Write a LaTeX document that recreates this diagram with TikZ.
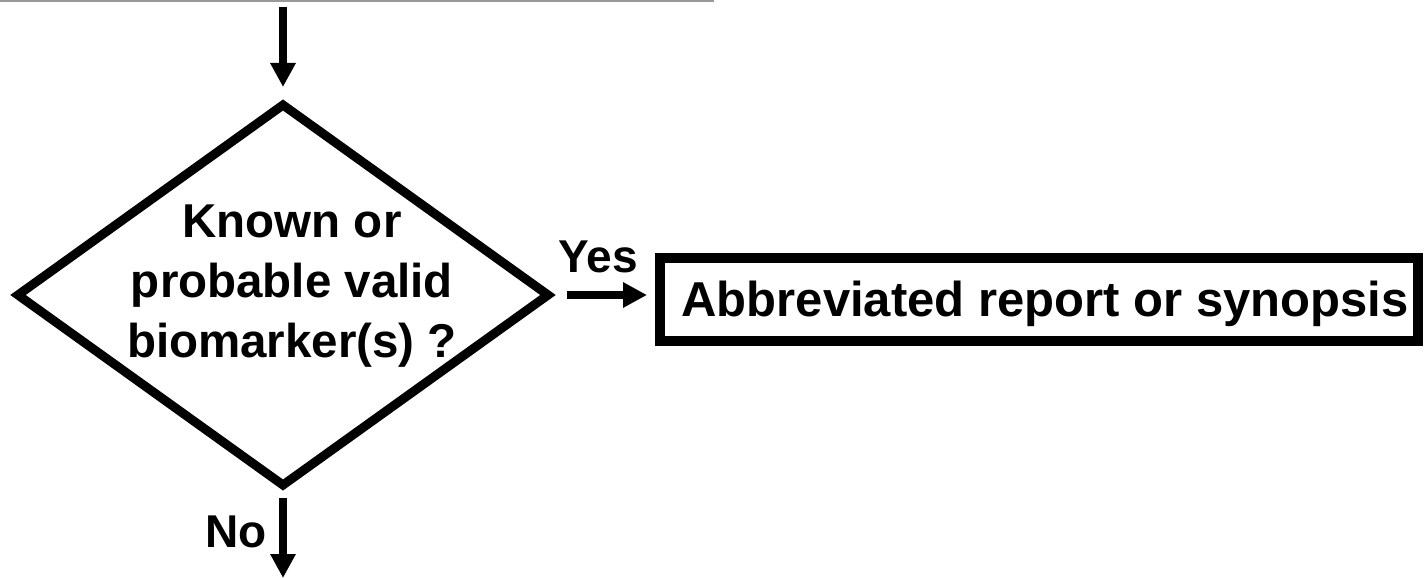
\documentclass[tikz,border=0pt]{standalone}
\usepackage{fontspec}
\setmainfont{Liberation Sans}
\usetikzlibrary{shapes.geometric,arrows.meta}
\definecolor{rulegray}{HTML}{999999}
\begin{document}
\begin{tikzpicture}[x=1pt,y=-1pt,
  lbl/.style={font=\bfseries\fontsize{46}{60}\selectfont, inner sep=0pt},
  qlbl/.style={font=\bfseries\fontsize{47.5}{60}\selectfont, inner sep=0pt},
  arr/.style={line width=8pt, -{Triangle[length=24pt,width=24pt]}},
  decision/.style={draw, diamond, line width=9pt, minimum width=530pt, minimum height=380pt, inner sep=0pt, outer sep=0pt},
  boxst/.style={draw, rectangle, line width=10pt, minimum width=758pt, minimum height=83pt, inner sep=0pt, outer sep=0pt, text height=34pt, text depth=0pt, font=\bfseries\fontsize{49}{60}\selectfont}
]
\useasboundingbox (0,0) rectangle (1425,578);
\draw[rulegray, line width=2pt] (0,1) -- (714,1);
\node[decision] (dia) at (283,295) {};
\node[qlbl, align=center] (q) at (292,286) {Known or\\probable valid\\biomarker(s) ?};
\node[boxst] (box) at (1039,299) {\hspace*{12pt}Abbreviated report or synopsis};
\coordinate (in) at (283,7);
\coordinate (out) at (283,578);
\draw[arr, shorten >=18pt] (in) -- (dia.north);
\draw[arr, shorten <=13pt] (dia.south) -- (out);
\draw[arr, shorten <=19pt, shorten >=13pt] (dia.east) -- (dia.east -| box.west);
\node[lbl, anchor=base] (yes) at (598,272) {Yes};
\node[lbl, anchor=base] (no) at (236,547) {No};
\end{tikzpicture}
\end{document}
